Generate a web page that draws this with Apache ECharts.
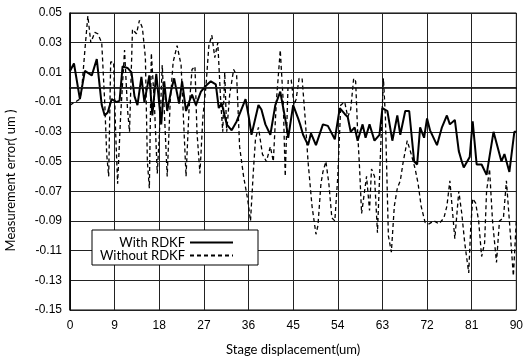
<!DOCTYPE html>
<html>
<head>
<meta charset="utf-8">
<script src="https://cdn.jsdelivr.net/npm/echarts@6/dist/echarts.min.js"></script>
<style>
  html, body { margin: 0; padding: 0; background: #fff; }
  #chart { width: 526px; height: 361px; }
</style>
</head>
<body>
<div id="chart"></div>
<script>
const withX = [
  0, 0.8, 2, 3, 4.4, 5.4, 6.4, 7, 7.6, 8.4, 9.4, 10, 10.6, 11.6, 12.4, 13, 13.6, 14.4, 15, 16,
  16.6, 17.4, 18.4, 19, 19.6, 20.4, 21, 22, 22.6, 23.4, 24, 24.6, 25.4, 26.4, 27.4, 28.4, 29.4, 30, 30.6, 31.6,
  32.6, 33.6, 35.4, 36, 36.6, 38, 38.6, 39.4, 40.4, 41.4, 42.4, 43, 43.6, 44, 45, 46, 46.4, 47, 48, 48.6,
  49.6, 51, 52, 53.4, 54.4, 55.4, 56, 56.6, 57.4, 58, 59, 59.6, 60.4, 61.4, 62.4, 63, 64, 65, 66, 66.6,
  67.6, 68.4, 69.4, 70, 70.6, 71.4, 72, 72.6, 74, 75, 76, 76.6, 77.6, 78.4, 79, 79.4, 80.6, 81.2, 82, 83,
  84, 85.4, 87, 87.6, 88.6, 89.6, 90
];
const withY = [
  0.011, 0.016, -0.008, 0.011, 0.008, 0.019, -0.012, -0.019, -0.017, -0.008, -0.010, -0.009, 0.014, 0.013, 0.010, -0.006, -0.012, 0.007, -0.010, 0.008,
  -0.019, 0.009, -0.025, 0.004, -0.016, -0.002, 0.006, -0.011, 0.004, -0.016, -0.010, -0.005, -0.012, -0.003, 0.001, 0.004, 0.002, -0.014, -0.011, -0.025,
  -0.029, -0.023, -0.008, -0.019, -0.032, -0.012, -0.015, -0.025, -0.032, -0.012, -0.003, -0.014, -0.025, -0.034, -0.012, -0.021, -0.025, -0.032, -0.039, -0.031,
  -0.039, -0.025, -0.026, -0.035, -0.014, -0.018, -0.020, -0.030, -0.027, -0.036, -0.025, -0.034, -0.025, -0.036, -0.032, -0.014, -0.016, -0.036, -0.019, -0.032,
  -0.016, -0.016, -0.050, -0.052, -0.027, -0.034, -0.021, -0.029, -0.039, -0.027, -0.019, -0.025, -0.022, -0.043, -0.050, -0.054, -0.047, -0.023, -0.052, -0.052,
  -0.059, -0.030, -0.050, -0.045, -0.057, -0.030, -0.030
];
const withoutX = [
  0, 1, 2, 2.4, 3, 3.6, 4.2, 5, 5.6, 6.4, 7, 7.4, 7.8, 8.2, 8.8, 9.2, 9.6, 10.2, 11, 11.6,
  12, 12.6, 13.4, 14, 14.6, 15.2, 15.6, 16, 16.4, 17, 17.6, 18.2, 18.6, 19.2, 19.6, 20.2, 20.8, 21.6, 22.4, 23,
  23.4, 24, 24.6, 25.2, 25.6, 26.2, 26.8, 27.4, 28, 28.6, 29.2, 29.8, 30.4, 30.8, 31.2, 31.6, 32.2, 33, 33.6, 34.2,
  35, 35.8, 36.4, 37, 37.4, 38, 38.8, 39.6, 40.4, 41, 41.6, 42.4, 43, 43.4, 44, 44.6, 45.2, 45.6, 46.2, 46.8,
  47.4, 48, 48.8, 49.6, 50, 50.6, 51, 51.6, 52.2, 52.8, 53.4, 54, 54.6, 55.4, 56, 56.6, 57.2, 57.6, 58, 58.4,
  58.8, 59.4, 59.8, 60.4, 60.8, 61.4, 62, 62.6, 63.2, 63.6, 64.2, 64.8, 65.4, 66, 66.6, 67.2, 68, 68.8, 69.6, 70.2,
  70.8, 71.6, 72.4, 73.4, 74.4, 75.4, 76, 76.6, 77, 77.6, 78.4, 79, 79.6, 80.4, 80.8, 81.2, 81.8, 82.4, 83, 83.6,
  84, 84.6, 85.2, 86, 86.6, 87.4, 88, 88.6, 89.4, 90
];
const withoutY = [
  -0.012, -0.010, -0.008, 0.000, 0.025, 0.048, 0.030, 0.037, 0.036, 0.030, -0.010, -0.045, -0.060, 0.017, 0.017, -0.030, -0.065, -0.020, 0.025, -0.015,
  -0.030, 0.039, 0.036, 0.045, 0.040, 0.020, -0.050, -0.068, 0.023, -0.010, -0.058, -0.020, 0.015, -0.030, -0.060, -0.010, 0.017, 0.028, 0.015, -0.030,
  -0.060, -0.015, 0.012, 0.014, -0.030, -0.058, -0.020, 0.000, 0.028, 0.035, 0.020, 0.030, -0.010, -0.030, 0.010, -0.030, -0.005, 0.012, 0.008, -0.040,
  -0.060, -0.075, -0.090, -0.055, -0.035, -0.027, -0.045, -0.050, -0.040, -0.050, -0.010, 0.025, -0.010, -0.060, 0.005, 0.005, -0.012, -0.008, 0.006, 0.006,
  -0.020, -0.050, -0.080, -0.099, -0.093, -0.065, -0.057, -0.050, -0.065, -0.088, -0.090, -0.060, -0.012, -0.010, -0.020, -0.015, 0.006, 0.004, -0.030, -0.055,
  -0.085, -0.070, -0.060, -0.083, -0.055, -0.060, -0.098, -0.045, 0.006, -0.020, -0.100, -0.111, -0.080, -0.068, -0.063, -0.050, -0.036, -0.045, -0.055, -0.065,
  -0.080, -0.091, -0.092, -0.090, -0.092, -0.088, -0.080, -0.063, -0.062, -0.102, -0.070, -0.085, -0.105, -0.125, -0.095, -0.075, -0.078, -0.090, -0.114, -0.105,
  -0.070, -0.055, -0.090, -0.118, -0.090, -0.088, -0.063, -0.090, -0.127, -0.090
];
const seriesNames = ["With RDKF", "Without RDKF"];

const zip = (xs, ys) => xs.map((x, i) => [x, ys[i]]);

const myChart = echarts.init(document.getElementById("chart"));
const tickFont = { color: "#000", fontSize: 12, fontFamily: "Liberation Sans" };

const option = {
  animation: false,
  backgroundColor: "#fff",
  grid: {
    left: 70, right: 6, top: 13, bottom: 46,
    show: true, borderColor: "#000", borderWidth: 1
  },
  xAxis: {
    type: "value",
    min: 0, max: 90, interval: 9,
    name: "Stage displacement(um)",
    nameLocation: "middle",
    nameGap: 33,
    nameTextStyle: { color: "#000", fontSize: 13, fontFamily: "Lato" },
    axisLine: { lineStyle: { color: "#000", width: 1.5 } },
    axisTick: { show: false },
    axisLabel: Object.assign({ margin: 10 }, tickFont),
    splitLine: { lineStyle: { color: "#222", width: 1 } }
  },
  yAxis: {
    type: "value",
    min: -0.15, max: 0.05, interval: 0.02,
    axisLine: { show: true, lineStyle: { color: "#000", width: 1.5 } },
    axisTick: { show: false },
    axisLabel: Object.assign({ margin: 8, formatter: (v) => v.toFixed(2) }, tickFont),
    splitLine: { lineStyle: { color: "#222", width: 1 } }
  },
  graphic: [{
    type: "text",
    left: 4,
    top: "middle",
    rotation: Math.PI / 2,
    x: 4, y: 193,
    style: {
      text: "Measurement error( um )",
      fill: "#000",
      font: "13px Lato",
      textAlign: "center",
      textVerticalAlign: "middle"
    }
  }],
  legend: {
    orient: "vertical",
    left: 92, top: 230,
    backgroundColor: "#fff",
    borderColor: "#000", borderWidth: 1,
    padding: [6, 24, 3, 7],
    itemWidth: 43, itemHeight: 10, itemGap: 0,
    align: "right",
    itemStyle: { opacity: 0 },
    formatter: (name) => "{a|" + name + "}",
    textStyle: {
      rich: { a: { width: 86, fontSize: 13, lineHeight: 15, fontFamily: "Lato", color: "#000" } }
    },
    data: seriesNames
  },
  series: [
    {
      name: seriesNames[0],
      type: "line",
      data: zip(withX, withY),
      symbol: "none",
      lineStyle: { color: "#000", width: 2 },
      itemStyle: { color: "#000" },
      markLine: {
        silent: true, symbol: "none", label: { show: false },
        lineStyle: { color: "#222", width: 1, type: "solid" },
        data: [{ yAxis: 0 }]
      },
      z: 3
    },
    {
      name: seriesNames[1],
      type: "line",
      data: zip(withoutX, withoutY),
      symbol: "none",
      lineStyle: { color: "#000", width: 1.3, type: [4, 3] },
      itemStyle: { color: "#000" },
      z: 2
    }
  ]
};

myChart.setOption(option);
</script>
</body>
</html>
